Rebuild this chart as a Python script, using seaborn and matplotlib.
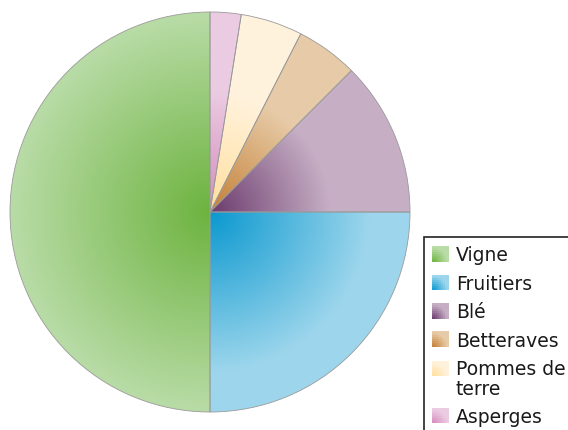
import numpy as np
import seaborn as sns
import matplotlib.pyplot as plt
from matplotlib.colors import to_rgb
from matplotlib.patches import Patch, Rectangle
from matplotlib.legend_handler import HandlerPatch

labels = ["Vigne", "Fruitiers", "Blé", "Betteraves", "Pommes de\nterre", "Asperges"]
values = [50, 25, 12.5, 5, 5, 2.5]

inner_colors = ["#6db33f", "#0a98cf", "#6b3a6c", "#c47f35", "#ffdf9e", "#d48cbd"]
outer_colors = ["#b9dca7", "#9dd6ec", "#c6afc5", "#e7cba8", "#fff2dc", "#ebcbe2"]
reach = [1.0, 0.8, 0.6, 0.6, 0.6, 0.6]

sns.set_style("white")

fig = plt.figure(figsize=(5.68, 4.31), dpi=100)
ax = fig.add_axes([0, 0, 1, 1])

cx, cy, R = 210, 218, 200
wedges, _ = ax.pie(values, center=(cx, cy), radius=R, startangle=90,
                   counterclock=True,
                   wedgeprops=dict(facecolor="none", edgecolor="#9a9a9a",
                                   linewidth=0.6, zorder=3))

# radial gradient inside every wedge
yy, xx = np.mgrid[0:431, 0:568] + 0.5
rr = np.hypot(xx - cx, yy - cy) / R
for w, c0, c1, g in zip(wedges, inner_colors, outer_colors, reach):
    t = np.clip(rr / g, 0, 1)[..., None]
    img = np.array(to_rgb(c0)) * (1 - t) + np.array(to_rgb(c1)) * t
    im = ax.imshow(img, extent=(0, 568, 0, 431), origin="lower",
                   interpolation="bilinear", zorder=2)
    im.set_clip_path(w)

ax.set_xlim(0, 568)
ax.set_ylim(0, 431)
ax.set_aspect("equal")
ax.axis("off")


class GradientHandler(HandlerPatch):
    # small swatch, dark in the lower-left corner like the wedges
    def __init__(self, c0, c1, shift=0.0):
        super().__init__()
        self.c0, self.c1, self.shift = np.array(to_rgb(c0)), np.array(to_rgb(c1)), shift

    def create_artists(self, legend, orig_handle, xdescent, ydescent,
                       width, height, fontsize, trans):
        n = 8
        x0, y0 = -xdescent, -ydescent + self.shift * fontsize
        out = []
        for i in range(n):
            for j in range(n):
                d = np.hypot(i + 0.5, j + 0.5) / (n * 0.9)
                t = min(d, 1.0)
                col = self.c0 * (1 - t) + self.c1 * t
                out.append(Rectangle((x0 + i * width / n, y0 + j * height / n),
                                     width / n * 1.02, height / n * 1.02,
                                     facecolor=col, edgecolor="none",
                                     linewidth=0, transform=trans))
        return out


handles = [Patch(facecolor=c, edgecolor="none") for c in outer_colors]
hmap = {h: GradientHandler(c0, c1, 0.58 if k == 4 else 0.0)
        for k, (h, c0, c1) in enumerate(zip(handles, inner_colors, outer_colors))}
leg = fig.legend(handles, labels, loc="upper left",
                 bbox_to_anchor=(424 / 568, 1 - 238 / 431),
                 frameon=False, fontsize=13.5, borderaxespad=0,
                 handlelength=0.9, handleheight=0.9, handletextpad=0.35,
                 labelspacing=0.5, borderpad=0.45, handler_map=hmap)
for t in leg.get_texts():
    t.set_color("#1a1a1a")
    t.set_linespacing(1.05)

# legend box runs off the right and bottom edges of the picture
fig.patches.append(Rectangle((424 / 568, -0.1), 0.5, 1.1 - 238 / 431,
                             transform=fig.transFigure, facecolor="none",
                             edgecolor="#222222", linewidth=1.2,
                             clip_on=False))

fig.savefig("out.png", dpi=100)
